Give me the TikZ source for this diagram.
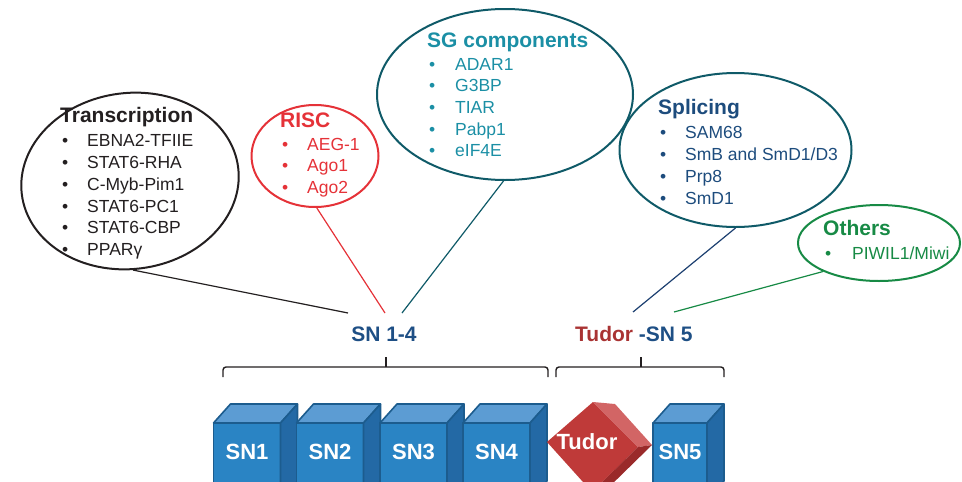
\documentclass[tikz,border=0pt]{standalone}
\usepackage{fontspec}
\setmainfont{Liberation Sans}
\usetikzlibrary{shapes.geometric}
\definecolor{trcol}{HTML}{231F20}
\definecolor{risccol}{HTML}{E53238}
\definecolor{sgtext}{HTML}{1B8FA5}
\definecolor{tealline}{HTML}{0F5A68}
\definecolor{spltext}{HTML}{1D4C7D}
\definecolor{splline}{HTML}{1C3F70}
\definecolor{othcol}{HTML}{178A45}
\definecolor{snblue}{HTML}{1E4F85}
\definecolor{tudorred}{HTML}{A93333}
\definecolor{cfront}{HTML}{2A84C4}
\definecolor{ctop}{HTML}{5C9CD3}
\definecolor{cside}{HTML}{2369A5}
\definecolor{cedge}{HTML}{1C5C8E}
\definecolor{tfront}{HTML}{BF3A39}
\definecolor{tlight}{HTML}{D26565}
\definecolor{tdark}{HTML}{9A2A2A}
\newcommand{\bt}[1]{{\fontsize{21}{24}\selectfont\bfseries #1}}
\newcommand{\bl}[1]{\hspace*{2pt}\makebox[25pt][l]{\textbullet}#1}
\newcommand\sncube[4]{%
  \pgfmathsetmacro\cxa{#1}\pgfmathsetmacro\cxb{#1+#2}%
  \pgfmathsetmacro\cxc{#1+#2+17}\pgfmathsetmacro\cxd{#1+17}%
  \pgfmathsetmacro\cxm{#1+#2/2}%
  \fill[cfront] (\cxa,423) rectangle (\cxb,500);
  \filldraw[fill=ctop, cubeedge] (\cxa,423) -- (\cxd,404) -- (\cxc,404) -- (\cxb,423) -- cycle;
  \filldraw[fill=cside, cubeedge] (\cxb,423) -- (\cxc,404) -- (\cxc,481) -- (\cxb,500) -- cycle;
  \draw[cubeedge] (\cxa,423) rectangle (\cxb,500);
  \node[cubelabel] (#3) at (\cxm,452) {#4};
}
\begin{document}
\begin{tikzpicture}[x=1pt,y=-1pt,
  bubble/.style={ellipse, draw, line width=2pt, inner sep=0pt},
  bubtext/.style={anchor=north west, align=left, inner sep=0pt, font=\fontsize{17.5}{21.7}\selectfont},
  conn/.style={line width=1.2pt},
  cubeedge/.style={draw=cedge, line width=1.6pt, line join=round},
  cubelabel/.style={text=white, font=\fontsize{22}{24}\selectfont\bfseries, inner sep=0pt},
  snlab/.style={font=\fontsize{21}{24}\selectfont\bfseries, inner sep=0pt},
  bracestyle/.style={draw=trcol, line width=1.4pt, rounded corners=3pt}]
\useasboundingbox (0,0) rectangle (962,482);
\clip (0,0) rectangle (962,482);

% bubbles
\node[bubble, draw=trcol, minimum width=218pt, minimum height=176pt, rotate=7] (tr) at (130,181) {};
\node[bubble, draw=risccol, minimum width=127pt, minimum height=102pt] (risc) at (315,156) {};
\node[bubble, draw=tealline, minimum width=256pt, minimum height=171pt] (sg) at (505,94.5) {};
\node[bubble, draw=tealline, minimum width=232pt, minimum height=154pt] (spl) at (735.5,150) {};
\node[bubble, draw=othcol, minimum width=162pt, minimum height=76pt] (oth) at (879,243) {};

% bubble texts
\node[bubtext, text=trcol] (trt) at (60,107.5) {\bt{Transcription}\\[2.3pt]
  \bl{EBNA2-TFIIE}\\ \bl{STAT6-RHA}\\ \bl{C-Myb-Pim1}\\ \bl{STAT6-PC1}\\ \bl{STAT6-CBP}\\ \bl{PPARγ}};
\node[bubtext, text=risccol] (risct) at (280,112.5) {\bt{RISC}\\[1pt]
  \bl{AEG-1}\\ \bl{Ago1}\\ \bl{Ago2}};
\node[bubtext, text=sgtext] (sgt) at (427,32.5) {\bt{SG components}\\[1pt]
  \bl{\hspace*{1pt}ADAR1}\\ \bl{\hspace*{1pt}G3BP}\\ \bl{\hspace*{1pt}TIAR}\\ \bl{\hspace*{1pt}Pabp1}\\ \bl{\hspace*{1pt}eIF4E}};
\node[bubtext, text=spltext] (splt) at (658,99.5) {\bt{Splicing}\\[2.3pt]
  \bl{SAM68}\\ \bl{SmB and SmD1/D3}\\ \bl{Prp8}\\ \bl{SmD1}};
\node[bubtext, text=othcol] (otht) at (823,220.5) {\bt{Others}\\[1.5pt]
  \bl{\hspace*{2pt}PIWIL1/Miwi}};

% labels
\node[snlab, text=snblue] (sn14) at (384,334) {SN 1-4};
\node[snlab, text=snblue, anchor=west] (sn5lab) at (575,334) {\textcolor{tudorred}{Tudor} -SN 5};

% connectors
\coordinate (e1) at (348,313);
\coordinate (e2) at (385,313);
\coordinate (e3) at (402,313);
\coordinate (e4) at (633,312);
\coordinate (e5) at (674,312);
\draw[conn, trcol] (tr.-95) -- (e1);
\draw[conn, risccol] (risc.-88) -- (e2);
\draw[conn, tealline] (sg.-91) -- (e3);
\draw[conn, splline] (spl.south) -- (e4);
\draw[conn, othcol] (oth.207) -- (e5);

% braces
\coordinate (b1l) at (223,377);
\coordinate (b1m) at (386,367);
\coordinate (b1r) at (548,377);
\coordinate (b1t) at (386,357);
\coordinate (b2l) at (556,377);
\coordinate (b2m) at (641,367);
\coordinate (b2r) at (724,377);
\coordinate (b2t) at (641,357);
\draw[bracestyle] (b1l) |- (b1m) -| (b1r);
\draw[bracestyle] (b1m) -- (b1t);
\draw[bracestyle] (b2l) |- (b2m) -| (b2r);
\draw[bracestyle] (b2m) -- (b2t);

% domains
\sncube{213.5}{67}{sn1}{SN1}
\sncube{296.5}{67}{sn2}{SN2}
\sncube{380}{67}{sn3}{SN3}
\sncube{463}{67}{sn4}{SN4}
\fill[tfront] (547,442) -- (593,402) -- (638,447) -- (592,492) -- cycle;
\fill[tlight] (593,402) -- (615,404) -- (652,445) -- (638,447) -- cycle;
\fill[tdark] (638,447) -- (652,445) -- (606,490) -- (592,492) -- cycle;
\node[cubelabel] (tudor) at (587,442) {Tudor};
\sncube{653}{54}{sn5}{SN5}
\end{tikzpicture}
\end{document}
